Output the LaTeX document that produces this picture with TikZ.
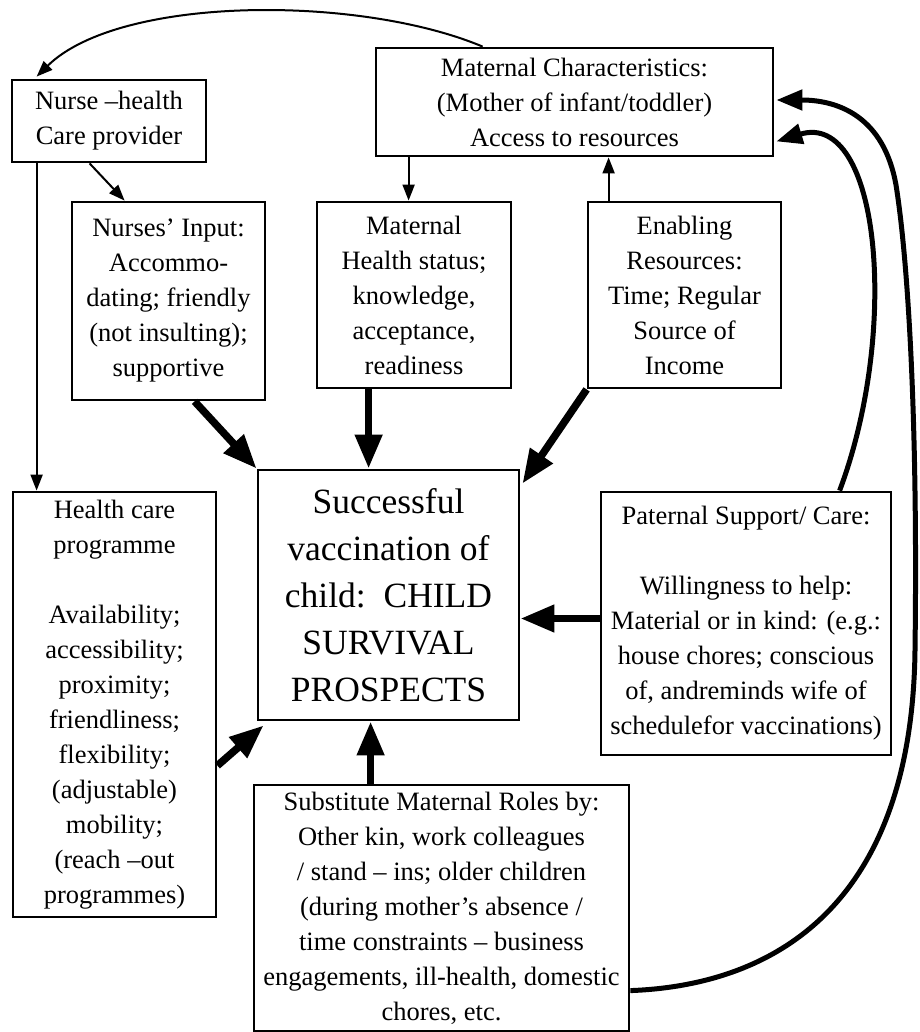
\documentclass[tikz,border=0pt]{standalone}
\usepackage{fontspec}
\setmainfont{Liberation Serif}
\usetikzlibrary{arrows.meta,calc}
\begin{document}
\begin{tikzpicture}[x=1pt,y=-1pt,
 box/.style={draw, line width=2.8pt, align=center, inner sep=2pt, font=\fontsize{26.5}{35}\selectfont},
 thinarrow/.style={line width=2pt, -{Triangle[length=16pt,width=12pt]}},
 thickarrow/.style={line width=7.5pt, -{Triangle[length=34pt,width=26pt]}},
 curvearrow/.style={line width=5pt, -{Triangle[length=26pt,width=20pt]}}]
\useasboundingbox (0,0) rectangle (919,1032);

\node[box, minimum width=194pt, minimum height=82pt] (nurse) at (109,121) {Nurse –health\\Care provider};
\node[box, minimum width=397pt, minimum height=108pt] (matchar) at (574.5,102) {Maternal Characteristics:\\(Mother of infant/toddler)\\Access to resources};
\node[box, minimum width=193pt, minimum height=198pt] (input) at (168.5,301) {Nurses’ Input:\\Accommo-\\dating; friendly\\(not insulting);\\supportive};
\node[box, minimum width=194pt, minimum height=186pt] (mhealth) at (414,295) {Maternal\\Health status;\\knowledge,\\acceptance,\\readiness};
\node[box, minimum width=193pt, minimum height=186pt] (enabling) at (684.5,295) {Enabling\\Resources:\\Time; Regular\\Source of\\Income};
\node[box, minimum width=261pt, minimum height=250pt, font=\fontsize{35.5}{47}\selectfont] (center) at (388.5,595) {Successful\\vaccination of\\child:~~CHILD\\SURVIVAL\\PROSPECTS};
\node[box, minimum width=203pt, minimum height=425pt] (health) at (114.5,704.5) {Health care\\programme\\[35pt]Availability;\\accessibility;\\proximity;\\friendliness;\\flexibility;\\(adjustable)\\mobility;\\(reach –out\\programmes)};
\node[box, minimum width=290pt, minimum height=263pt] (paternal) at (746,623.5) {Paternal Support/ Care:\\[35pt]Willingness to help:\\Material or in kind: (e.g.:\\house chores; conscious\\of, andreminds wife of\\schedulefor vaccinations)};
\node[box, minimum width=375pt, minimum height=246pt] (subst) at (441.5,908) {Substitute Maternal Roles by:\\Other kin, work colleagues\\/ stand – ins; older children\\(during mother’s absence /\\time constraints – business\\engagements, ill-health, domestic\\chores, etc.};

% thin connectors
\draw[thinarrow] ($(matchar.north west)+(108,0)$) .. controls (360,-5) and (120,-5) .. ($(nurse.north west)+(26,-2)$);
\draw[thinarrow] ($(nurse.south west)+(79,0)$) -- ($(input.north west)+(54,0)$);
\draw[thinarrow] ($(nurse.south west)+(26,0)$) -- ($(health.north west)+(25,0)$);
\draw[thinarrow] ($(matchar.south west)+(34,0)$) -- ($(mhealth.north west)+(93,0)$);
\draw[thinarrow] ($(enabling.north west)+(22,0)$) -- ($(matchar.south west)+(234,0)$);

% thick connectors
\draw[thickarrow] ($(input.south west)+(124,0)$) -- (center.north west);
\draw[thickarrow] ($(mhealth.south west)+(53,0)$) -- ($(center.north west)+(112,0)$);
\draw[thickarrow] (enabling.south west) -- ($(center.north east)+(2,15)$);
\draw[thickarrow] ($(paternal.west)+(0,-5)$) -- ($(center.east |- paternal.west)+(0,-5)$);
\draw[thickarrow] ($(health.north east)+(0,275)$) -- ($(center.south west)+(7,4)$);
\draw[thickarrow] ($(subst.north west)+(118,0)$) -- ($(center.south west)+(114,0)$);

% curved feedback connectors
\draw[curvearrow] ($(subst.north east)+(0,207)$) .. controls (780,985) and (912,900) .. (915,650) .. controls (918,420) and (908,260) .. (896,185) .. controls (884,118) and (840,100) .. ($(matchar.east)+(2,-2)$);
\draw[curvearrow] ($(paternal.north west)+(240,0)$) .. controls (900,330) and (880,110) .. ($(matchar.south east)+(2,-16)$);
\end{tikzpicture}
\end{document}
